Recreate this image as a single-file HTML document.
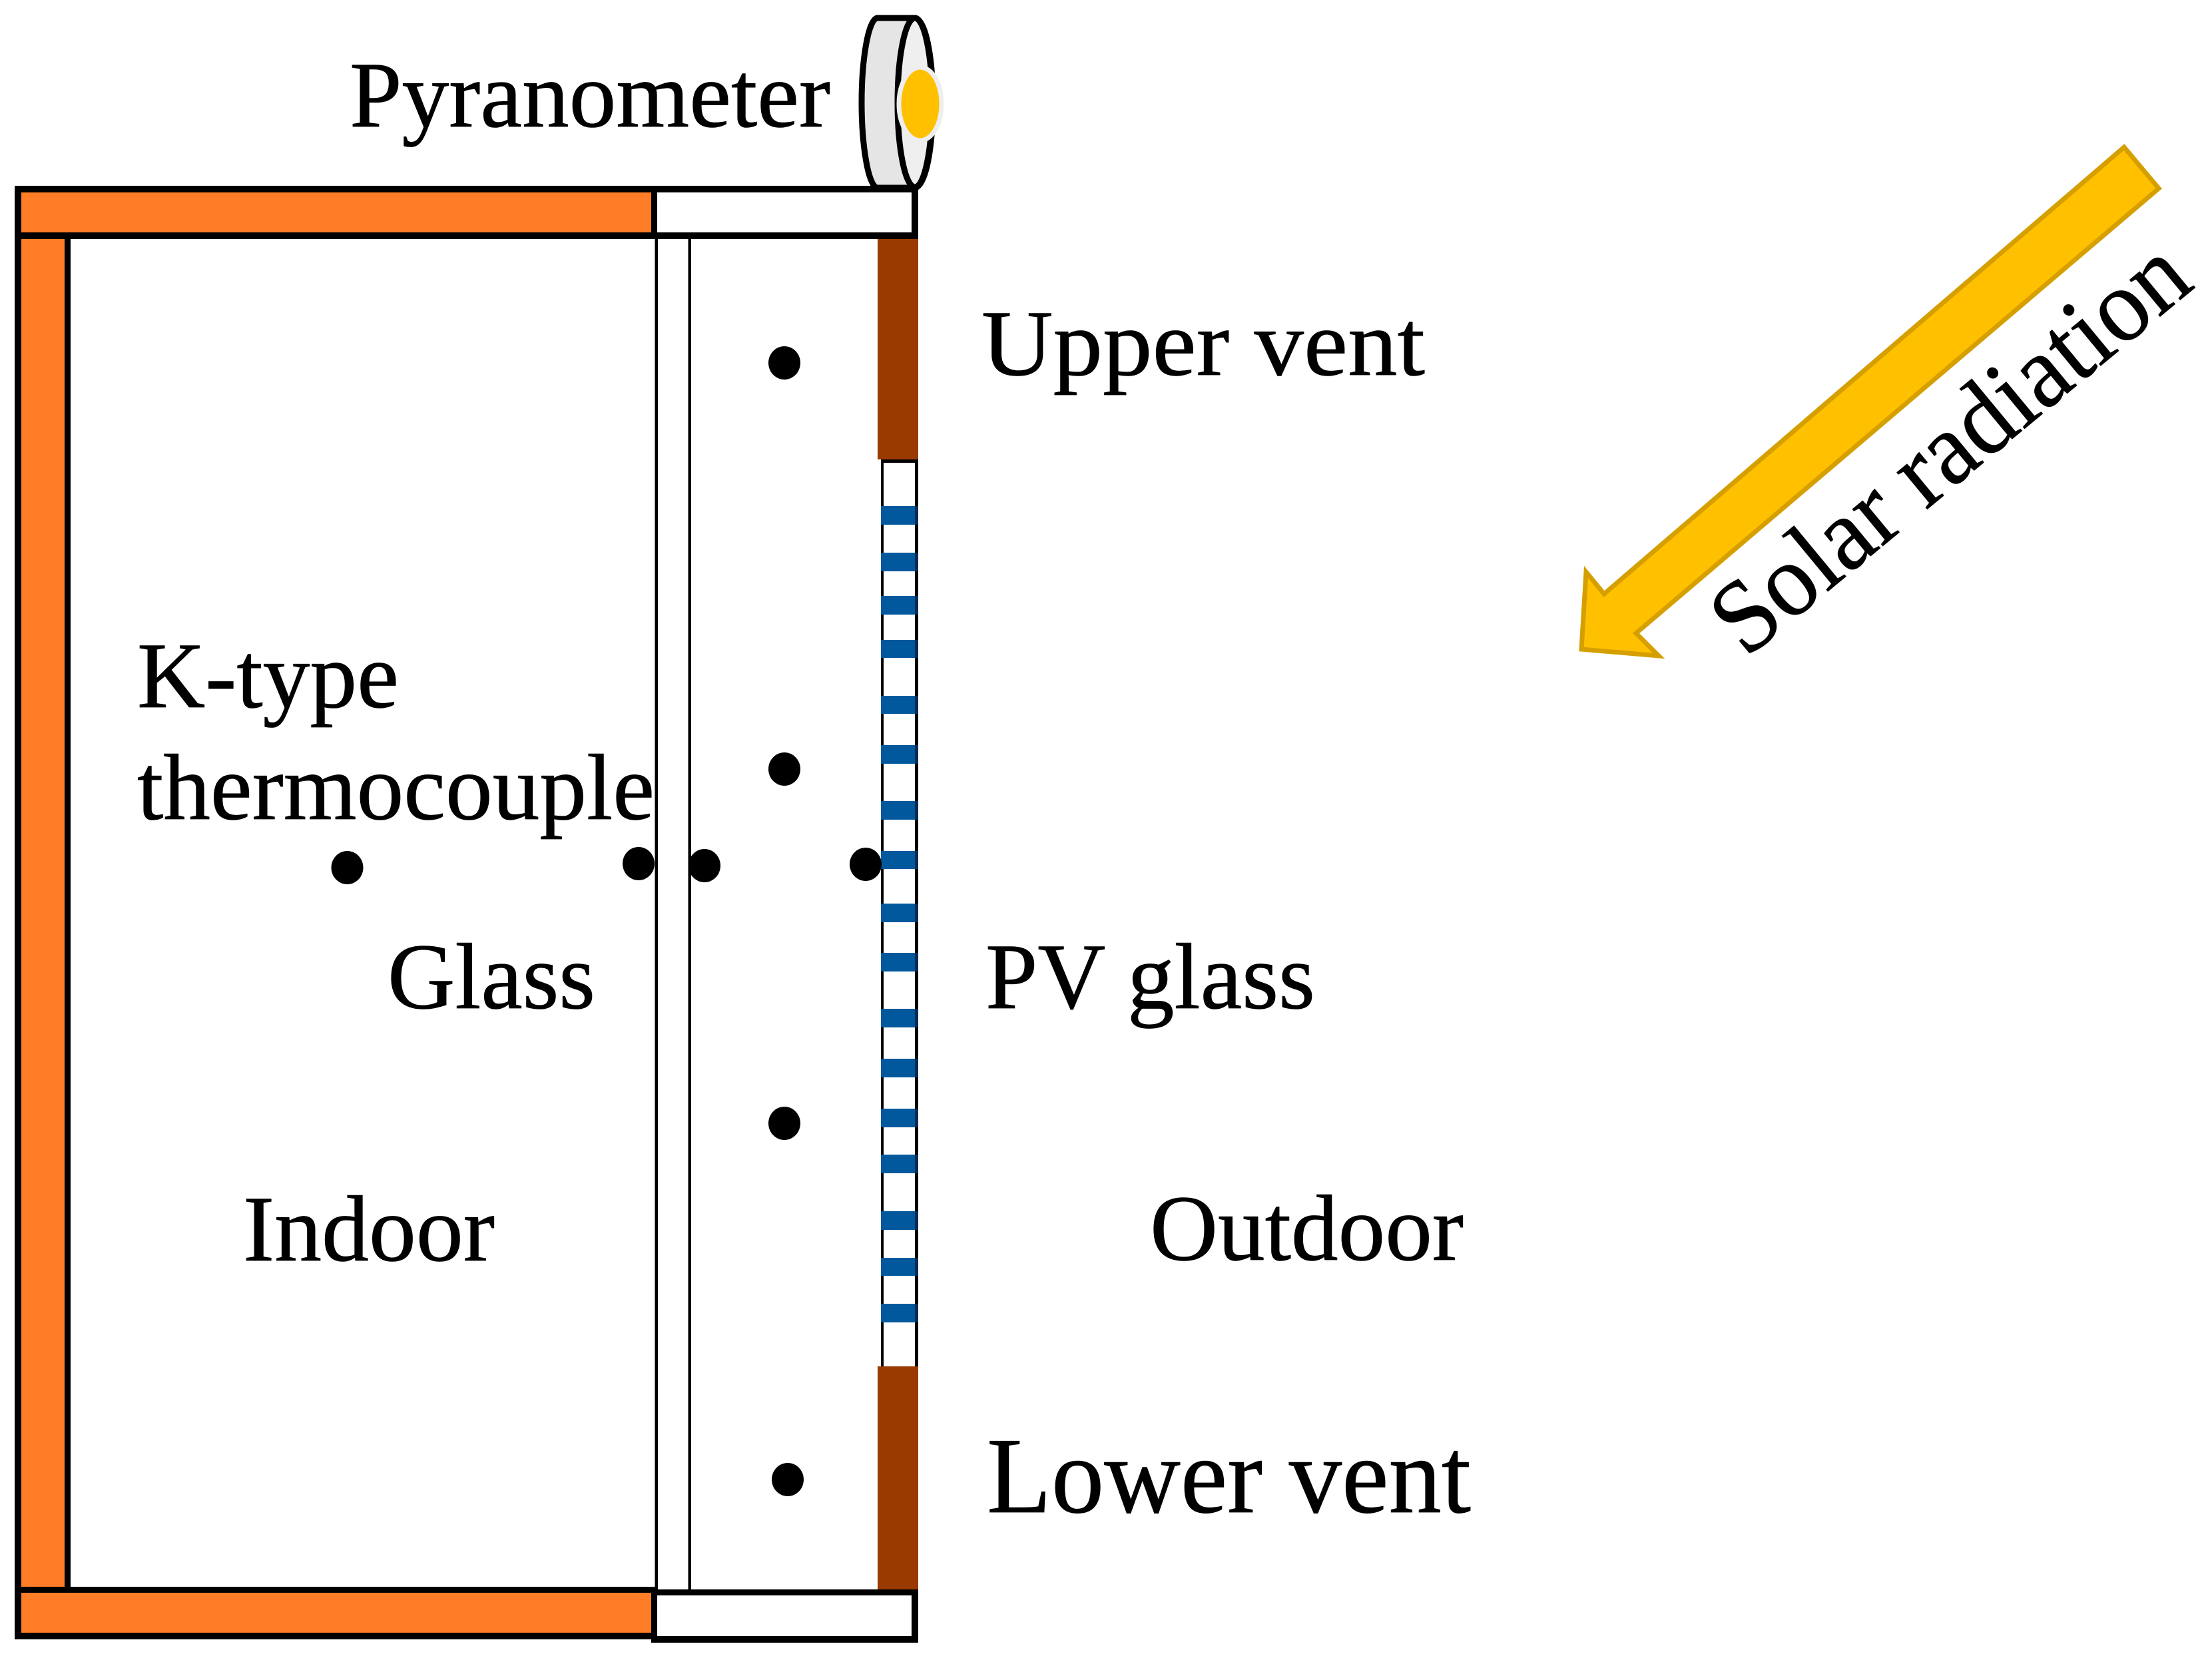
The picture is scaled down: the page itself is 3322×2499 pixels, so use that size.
<!DOCTYPE html>
<html>
<head>
<meta charset="utf-8">
<style>
html,body{margin:0;padding:0;background:#fff;}
svg{display:block;}
text{font-family:"Liberation Serif",serif;fill:#000;stroke:#000;stroke-width:0.8px;}
</style>
</head>
<body>
<svg xmlns="http://www.w3.org/2000/svg" width="3322" height="2499" viewBox="0 0 3322 2499">
<rect width="3322" height="2499" fill="#fff"/>

<!-- Pyranometer -->
<path d="M1318 27 L1373 27 C1391 27 1401 90 1401 154 C1401 218 1391 282 1373 282 L1318 282 C1304 282 1294 218 1294 154 C1294 90 1304 27 1318 27 Z" fill="#e5e5e5" stroke="#000" stroke-width="9"/>
<ellipse cx="1374" cy="154" rx="26" ry="127" fill="#f0eff0" stroke="#000" stroke-width="9"/>
<ellipse cx="1382" cy="156" rx="32" ry="55" fill="#ffc000" stroke="#eeeeee" stroke-width="7"/>

<!-- Top bar -->
<rect x="22" y="279" width="965" height="80" fill="#000"/>
<rect x="32" y="289" width="946" height="60" fill="#ff7d26"/>
<rect x="978" y="279" width="401" height="80" fill="#000"/>
<rect x="987" y="289" width="382" height="60" fill="#fff"/>

<!-- Left wall -->
<rect x="22" y="359" width="84" height="2030" fill="#000"/>
<rect x="32" y="359" width="65" height="2024" fill="#ff7d26"/>

<!-- Bottom bar -->
<rect x="22" y="2383" width="965" height="79" fill="#000"/>
<rect x="32" y="2392" width="946" height="60" fill="#ff7d26"/>
<rect x="978" y="2387" width="401" height="80" fill="#000"/>
<rect x="987" y="2396" width="382" height="61" fill="#fff"/>

<!-- Inner glass -->
<rect x="983.5" y="359" width="4.5" height="2028" fill="#000"/>
<rect x="1033.5" y="359" width="4.5" height="2028" fill="#000"/>

<!-- Vents -->
<rect x="1318" y="359" width="61" height="331" fill="#993a00"/>
<rect x="1318" y="2052" width="61" height="335" fill="#993a00"/>

<!-- PV glass strip -->
<rect x="1323" y="690" width="56" height="1362" fill="#000"/>
<rect x="1327" y="695" width="47" height="1357" fill="#fff"/>
<g fill="#01589c">
<rect x="1323" y="760" width="56" height="28"/>
<rect x="1323" y="830" width="56" height="28"/>
<rect x="1323" y="895" width="56" height="28"/>
<rect x="1323" y="961" width="56" height="27"/>
<rect x="1323" y="1045" width="56" height="27"/>
<rect x="1323" y="1119" width="56" height="28"/>
<rect x="1323" y="1203" width="56" height="28"/>
<rect x="1323" y="1278" width="56" height="27"/>
<rect x="1323" y="1357" width="56" height="28"/>
<rect x="1323" y="1431" width="56" height="28"/>
<rect x="1323" y="1515" width="56" height="28"/>
<rect x="1323" y="1590" width="56" height="28"/>
<rect x="1323" y="1665" width="56" height="28"/>
<rect x="1323" y="1734" width="56" height="28"/>
<rect x="1323" y="1819" width="56" height="28"/>
<rect x="1323" y="1889" width="56" height="27"/>
<rect x="1323" y="1958" width="56" height="28"/>
</g>
<g fill="#0a2c52">
<rect x="1374" y="760" width="5" height="28"/>
<rect x="1374" y="830" width="5" height="28"/>
<rect x="1374" y="895" width="5" height="28"/>
<rect x="1374" y="961" width="5" height="27"/>
<rect x="1374" y="1045" width="5" height="27"/>
<rect x="1374" y="1119" width="5" height="28"/>
<rect x="1374" y="1203" width="5" height="28"/>
<rect x="1374" y="1278" width="5" height="27"/>
<rect x="1374" y="1357" width="5" height="28"/>
<rect x="1374" y="1431" width="5" height="28"/>
<rect x="1374" y="1515" width="5" height="28"/>
<rect x="1374" y="1590" width="5" height="28"/>
<rect x="1374" y="1665" width="5" height="28"/>
<rect x="1374" y="1734" width="5" height="28"/>
<rect x="1374" y="1819" width="5" height="28"/>
<rect x="1374" y="1889" width="5" height="27"/>
<rect x="1374" y="1958" width="5" height="28"/>
</g>

<!-- Thermocouple dots -->
<g fill="#000">
<ellipse cx="1178" cy="545" rx="24" ry="25"/>
<ellipse cx="1178" cy="1155" rx="24" ry="25"/>
<ellipse cx="521.5" cy="1303" rx="24" ry="25"/>
<ellipse cx="959" cy="1297" rx="24" ry="25"/>
<ellipse cx="1058" cy="1300" rx="24" ry="25"/>
<ellipse cx="1300" cy="1298" rx="24" ry="25"/>
<ellipse cx="1178" cy="1687" rx="24" ry="25"/>
<ellipse cx="1183" cy="2222" rx="24" ry="25"/>
</g>

<!-- Solar arrow -->
<polygon points="3190,221 3242,283 2457,951 2491,985 2375,975 2382,859 2409,892" fill="#ffc000" stroke="#d69f00" stroke-width="7" stroke-linejoin="miter"/>

<!-- Labels -->
<text x="525" y="190" font-size="141" textLength="722" lengthAdjust="spacingAndGlyphs">Pyranometer</text>
<text x="1474" y="563" font-size="141" textLength="666" lengthAdjust="spacingAndGlyphs">Upper vent</text>
<text x="206" y="1062" font-size="141" textLength="393" lengthAdjust="spacingAndGlyphs">K-type</text>
<text x="206" y="1230" font-size="141" textLength="777" lengthAdjust="spacingAndGlyphs">thermocouple</text>
<text x="582" y="1514" font-size="141" textLength="312" lengthAdjust="spacingAndGlyphs">Glass</text>
<text x="1480" y="1514" font-size="141" textLength="495" lengthAdjust="spacingAndGlyphs">PV glass</text>
<text x="365" y="1893" font-size="141" textLength="378" lengthAdjust="spacingAndGlyphs">Indoor</text>
<text x="1727" y="1892" font-size="141" textLength="471" lengthAdjust="spacingAndGlyphs">Outdoor</text>
<text x="1482" y="2271" font-size="163" textLength="727" lengthAdjust="spacingAndGlyphs">Lower vent</text>
<text x="0" y="0" font-size="156" textLength="878" lengthAdjust="spacingAndGlyphs" transform="translate(2622 990) rotate(-39.6)">Solar radiation</text>
</svg>
</body>
</html>
